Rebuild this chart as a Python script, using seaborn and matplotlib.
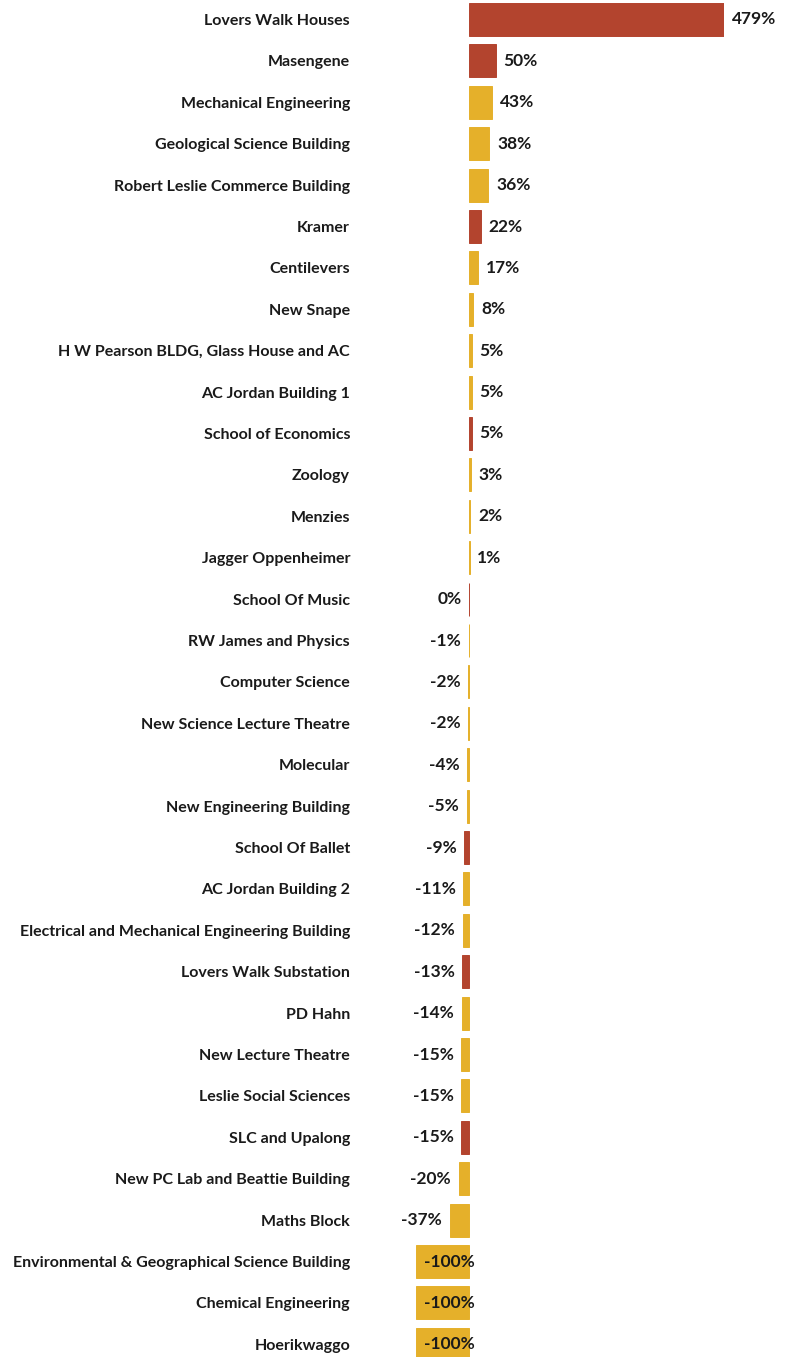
import matplotlib
matplotlib.use("Agg")
import matplotlib.pyplot as plt
import seaborn as sns
import pandas as pd

buildings = [
    "Lovers Walk Houses", "Masengene", "Mechanical Engineering", "Geological Science Building",
    "Robert Leslie Commerce Building", "Kramer", "Centilevers", "New Snape",
    "H W Pearson BLDG, Glass House and AC", "AC Jordan Building 1", "School of Economics",
    "Zoology", "Menzies", "Jagger Oppenheimer", "School Of Music", "RW James and Physics",
    "Computer Science", "New Science Lecture Theatre", "Molecular", "New Engineering Building",
    "School Of Ballet", "AC Jordan Building 2", "Electrical and Mechanical Engineering Building",
    "Lovers Walk Substation", "PD Hahn", "New Lecture Theatre", "Leslie Social Sciences",
    "SLC and Upalong", "New PC Lab and Beattie Building", "Maths Block",
    "Environmental & Geographical Science Building", "Chemical Engineering", "Hoerikwaggo",
]
change_pct = [479, 50, 43, 38, 36, 22, 17, 8, 5, 5, 5, 3, 2, 1, -0.3, -1, -2, -2, -4, -5,
              -9, -11, -12, -13, -14, -15, -15, -15, -20, -37, -100, -100, -100]
group = ["res", "res", "aca", "aca", "aca", "res", "aca", "aca", "aca", "aca", "res",
         "aca", "aca", "aca", "res", "aca", "aca", "aca", "aca", "aca",
         "res", "aca", "aca", "res", "aca", "aca", "aca", "res", "aca", "aca",
         "aca", "aca", "aca"]
labels = ["479%", "50%", "43%", "38%", "36%", "22%", "17%", "8%", "5%", "5%", "5%", "3%", "2%",
          "1%", "0%", "-1%", "-2%", "-2%", "-4%", "-5%", "-9%", "-11%", "-12%", "-13%", "-14%",
          "-15%", "-15%", "-15%", "-20%", "-37%", "-100%", "-100%", "-100%"]

df = pd.DataFrame({"building": buildings, "change": change_pct, "group": group})
palette = {"res": "#B3442E", "aca": "#E5B02A"}

sns.set_style("white")
plt.rcParams["font.family"] = ["Lato", "DejaVu Sans"]

W, H = 792, 1357
fig = plt.figure(figsize=(W / 100, H / 100), dpi=100)
n = len(buildings)
row_h = 41.4
top_px = 19.5 - row_h / 2
x0_px, x1_px = 416, 724
ax = fig.add_axes([x0_px / W, 1 - (top_px + n * row_h) / H, (x1_px - x0_px) / W, n * row_h / H])

sns.barplot(data=df, y="building", x="change", hue="group", palette=palette,
            dodge=False, width=0.8, orient="h", legend=False, ax=ax, saturation=1)
for p in ax.patches:
    p.set_edgecolor(p.get_facecolor())
    p.set_linewidth(0.7)
    p.set_antialiased(True)

ax.set_xlim(-100, 479)
ax.set_ylim(n - 0.5, -0.5)
ax.set_xlabel("")
ax.set_ylabel("")
ax.set_xticks([])
for s in ax.spines.values():
    s.set_visible(False)
ax.tick_params(axis="y", length=0, pad=47.5)
for t in ax.get_yticklabels():
    t.set_fontsize(11.5)
    t.set_fontweight("bold")
    t.set_color("#1a1a1a")

vfs = 12.5
for i, (v, lab) in enumerate(zip(change_pct, labels)):
    kw = dict(textcoords="offset points", va="center", fontsize=vfs, fontweight="bold",
              color="#1a1a1a", annotation_clip=False)
    if v >= 0:
        ax.annotate(lab, (v, i), xytext=(5.5, 0), ha="left", **kw)
    elif v <= -100:
        ax.annotate(lab, (-100, i), xytext=(5.5, 0), ha="left", **kw)
    else:
        ax.annotate(lab, (v, i), xytext=(-5.5, 0), ha="right", **kw)

fig.savefig("out.png", dpi=100)
